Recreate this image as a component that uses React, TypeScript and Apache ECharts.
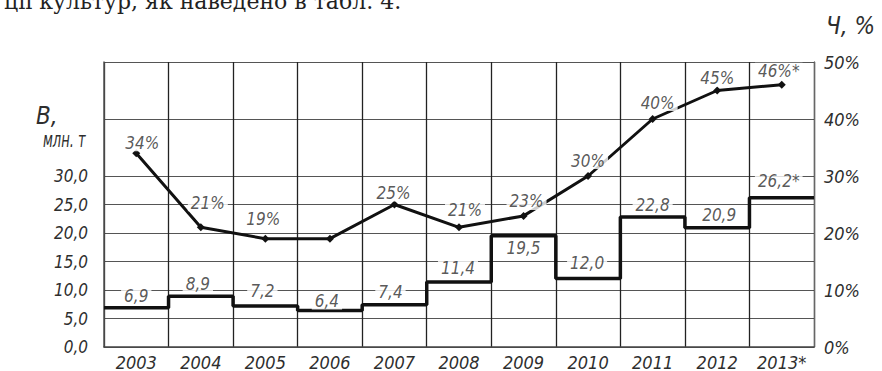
import React, { useEffect, useRef } from "react";
import * as echarts from "echarts";

const years = ["2003", "2004", "2005", "2006", "2007", "2008", "2009", "2010", "2011", "2012", "2013*"];
const production = [6.9, 8.9, 7.2, 6.4, 7.4, 11.4, 19.5, 12.0, 22.8, 20.9, 26.2];
const share = [34, 21, 19, 19, 25, 21, 23, 30, 40, 45, 46];
const shareLabelShown = [true, true, true, false, true, true, true, true, true, true, true];
const leftTickMax = 30;

const FONT = "'DejaVu Sans Condensed', 'Liberation Sans Narrow', 'DejaVu Sans', sans-serif";
const INK = "#2e2e2e";

// label pixel shifts (style only)
const prodLabelShift: [number, number][] = [
  [0, 1], [-3, 0], [-3, -2], [-3, 3], [-4, 0], [-1, -2], [0, 0], [-1, -3], [0, 0], [2, 0], [-3, -4],
];
const shareLabelShift: [number, number][] = [
  [6, 4], [7, -10], [-2, -5], [0, 0], [-1, 3], [6, -3], [3, 0], [0, -1], [5, -2], [0, 2], [-3, 1],
];

export default function App() {
  const ref = useRef<HTMLDivElement>(null);
  useEffect(() => {
    if (!ref.current) return;
    const chart = echarts.init(ref.current, undefined, { renderer: "svg" });
    const fmt = (v: number) => v.toFixed(1).replace(".", ",");
    const star = (i: number) => (years[i].endsWith("*") ? "*" : "");
    const stepData: number[][] = production.map((v, i) => [i, v]);
    stepData.push([production.length, production[production.length - 1]]);

    const hColors: string[] = [];
    for (let v = 0; v <= 50; v += 5) {
      hColors.push(v <= leftTickMax || v % 10 === 0 ? "#555" : "rgba(0,0,0,0)");
    }

    const labelFont = { fontFamily: FONT, fontStyle: "italic" as const, fontSize: 17, color: INK };

    chart.setOption({
      animation: false,
      backgroundColor: "#fff",
      grid: { left: 104, top: 62, right: 68, bottom: 23, containLabel: false },
      xAxis: [
        {
          type: "category",
          data: years,
          boundaryGap: true,
          axisLine: { show: true, lineStyle: { color: "#444", width: 1.5 } },
          axisTick: { show: false },
          splitLine: { show: true, lineStyle: { color: "#222", width: 1.3 } },
          axisLabel: { ...labelFont, fontSize: 18, margin: 6 },
        },
        { type: "value", min: 0, max: years.length, show: false },
      ],
      yAxis: [
        {
          type: "value",
          min: 0,
          max: 50,
          interval: 5,
          axisLine: { show: true, lineStyle: { color: "#555", width: 1.5 } },
          axisTick: { show: false },
          splitLine: { show: true, lineStyle: { color: hColors, width: 1.2 } },
          axisLabel: {
            ...labelFont,
            margin: 16,
            formatter: (v: number) => (v <= leftTickMax ? fmt(v) : ""),
          },
        },
        {
          type: "value",
          min: 0,
          max: 50,
          interval: 10,
          position: "right",
          axisLine: { show: true, lineStyle: { color: "#666", width: 1.3 } },
          axisTick: { show: false },
          splitLine: { show: false },
          axisLabel: { ...labelFont, fontSize: 18, margin: 10, formatter: (v: number) => `${v}%` },
        },
      ],
      graphic: [
        {
          type: "text",
          left: 4,
          top: -10,
          style: {
            text: "ції культур, як наведено в табл. 4.",
            font: "22px 'DejaVu Serif', serif",
            fill: "#222",
          },
        },
        {
          type: "text",
          left: 36,
          top: 104,
          style: { text: "B,", font: `italic 24px ${FONT}`, fill: INK },
        },
        {
          type: "text",
          left: 43,
          top: 128,
          scaleX: 0.66,
          style: { text: "млн. т", font: `italic 22px ${FONT}`, fill: INK },
        },
        {
          type: "text",
          left: 826,
          top: 14,
          style: { text: "Ч, %", font: `italic 24px ${FONT}`, fill: INK },
        },
      ],
      series: [
        {
          type: "line",
          name: "production",
          xAxisIndex: 1,
          yAxisIndex: 0,
          step: "end",
          data: stepData,
          symbol: "none",
          lineStyle: { color: "#111", width: 3.5 },
          z: 3,
        },
        {
          type: "line",
          name: "share",
          xAxisIndex: 0,
          yAxisIndex: 1,
          data: share,
          symbol: "diamond",
          symbolSize: 8,
          itemStyle: { color: "#111" },
          lineStyle: { color: "#111", width: 3 },
          z: 4,
        },
        {
          type: "scatter",
          xAxisIndex: 0,
          yAxisIndex: 0,
          symbolSize: 0,
          z: 10,
          data: production.map((v, i) => ({
            value: [i, v],
            label: {
              position: i === 6 ? "bottom" : "top",
              offset: prodLabelShift[i],
            },
          })),
          label: {
            show: true,
            distance: 4,
            ...labelFont,
            backgroundColor: "#fff",
            padding: [0, 3, 0, 3],
            formatter: (p: any) => fmt(p.value[1]) + star(p.dataIndex),
          },
        },
        {
          type: "scatter",
          xAxisIndex: 0,
          yAxisIndex: 1,
          symbolSize: 0,
          z: 10,
          data: share.map((v, i) => ({
            value: [i, v],
            label: { show: shareLabelShown[i], offset: shareLabelShift[i] },
          })),
          label: {
            show: true,
            position: "top",
            distance: 6,
            ...labelFont,
            backgroundColor: "#fff",
            padding: [0, 3, 0, 3],
            formatter: (p: any) => `${p.value[1]}%` + star(p.dataIndex),
          },
        },
      ],
    });
    return () => chart.dispose();
  }, []);
  return (
    <div
      ref={ref}
      style={{ position: "fixed", left: 0, top: 0, width: 882, height: 371, background: "#fff" }}
    />
  );
}
